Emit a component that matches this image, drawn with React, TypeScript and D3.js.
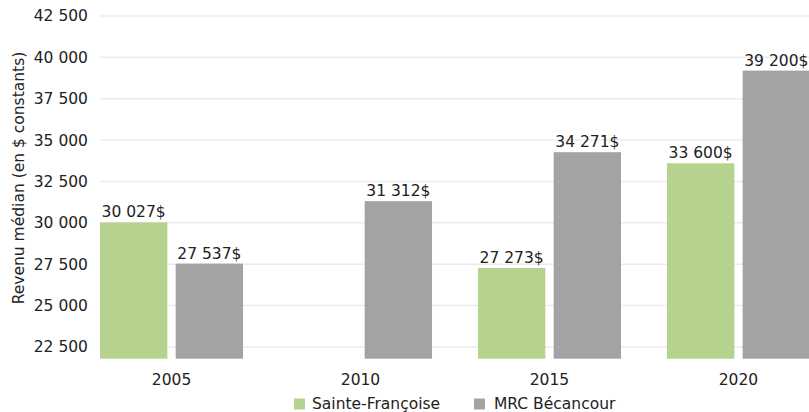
import React from "react";
import * as d3 from "d3";

const years = ["2005", "2010", "2015", "2020"];
const series = ["Sainte-Françoise", "MRC Bécancour"];
const sainteFrancoise: (number | null)[] = [30027, null, 27273, 33600];
const mrcBecancour: (number | null)[] = [27537, 31312, 34271, 39200];
const yTicks = [22500, 25000, 27500, 30000, 32500, 35000, 37500, 40000, 42500];
const colors = ["#b5d38f", "#a3a3a3"];

const W = 809;
const H = 412;
const FONT = "DejaVu Sans, sans-serif";
const FS = 15.5;

const fmt = (v: number) => d3.format(",")(v).replace(/,/g, " ");

export default function App() {
  const x = d3.scaleBand<string>().domain(years).range([100, 810]).paddingInner(0.243).paddingOuter(0);
  const x1 = d3.scaleBand<string>().domain(series).range([0, x.bandwidth()]).paddingInner(0.11);
  const y = d3.scaleLinear().domain([21793, 42500]).range([358.7, 16]);
  const data = [sainteFrancoise, mrcBecancour];

  return (
    <svg width={W} height={H} style={{ position: "absolute", left: 0, top: 0, fontFamily: FONT }}>
      <rect width={W} height={H} fill="#fff" />
      {yTicks.map((t) => (
        <g key={t}>
          <line x1={100} x2={W} y1={y(t)} y2={y(t)} stroke="#ebebeb" strokeWidth={1.5} />
          <text x={88} y={y(t)} dy="0.35em" textAnchor="end" fontSize={FS} fill="#222">
            {fmt(t)}
          </text>
        </g>
      ))}
      <text
        transform={`translate(24,${178}) rotate(-90)`}
        textAnchor="middle"
        fontSize={FS}
        fill="#222"
      >
        Revenu médian (en $ constants)
      </text>
      {years.map((yr, i) => (
        <g key={yr} transform={`translate(${x(yr)},0)`}>
          {series.map((s, j) => {
            const v = data[j][i];
            if (v == null) return null;
            const bx = x1(s)!;
            const bw = x1.bandwidth();
            return (
              <g key={s}>
                <rect x={bx} y={y(v)} width={bw} height={y.range()[0] - y(v)} fill={colors[j]} />
                <text x={bx + bw / 2} y={y(v) - 5} textAnchor="middle" fontSize={FS} fill="#222">
                  {fmt(v)}$
                </text>
              </g>
            );
          })}
          <text x={x.bandwidth() / 2} y={380} dy="0.35em" textAnchor="middle" fontSize={FS} fill="#222">
            {yr}
          </text>
        </g>
      ))}
      {series.map((s, j) => {
        const lx = j === 0 ? 294 : 474;
        return (
          <g key={s}>
            <rect x={lx} y={398.5} width={11} height={11} fill={colors[j]} />
            <text x={lx + (j === 0 ? 18 : 20)} y={403.5} dy="0.35em" fontSize={FS} fill="#222">
              {s}
            </text>
          </g>
        );
      })}
    </svg>
  );
}
